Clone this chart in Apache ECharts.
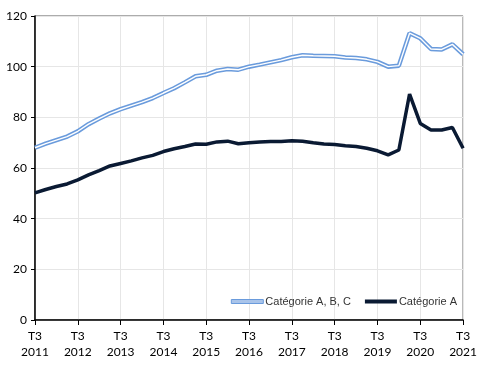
<!DOCTYPE html>
<html>
<head>
<meta charset="utf-8">
<script src="https://cdn.jsdelivr.net/npm/echarts@6/dist/echarts.min.js"></script>
<style>html,body{margin:0;padding:0;background:#fff}#c{width:480px;height:367px}</style>
</head>
<body>
<div id="c"></div>
<script>
const quarters = [];
(function(){ const q=['T3','T4','T1','T2']; let y=2011; for(let i=0;i<41;i++){ const k=q[i%4]; if(k==='T1'&&i>0) y++; quarters.push(k+' '+y);} })();

const catABC = [68.0,69.6,71.0,72.4,74.5,77.3,79.5,81.6,83.2,84.6,86.0,87.6,89.6,91.5,93.8,96.2,96.8,98.4,99.1,98.8,100.0,100.8,101.7,102.6,103.7,104.5,104.3,104.2,104.1,103.6,103.4,102.9,101.9,100.0,100.4,113.2,111.2,107.0,106.8,108.8,104.9];
const catA = [50.2,51.5,52.7,53.7,55.3,57.3,59.0,60.8,61.8,62.8,64.0,65.0,66.5,67.6,68.5,69.5,69.4,70.3,70.6,69.6,70.0,70.3,70.5,70.5,70.8,70.6,70.0,69.5,69.3,68.8,68.5,67.8,66.8,65.2,67.1,89.2,77.6,75.0,75.0,76.0,67.8];
const yTicks = [0,20,40,60,80,100,120];
const names = ['Catégorie A, B, C','Catégorie A'];

const chart = echarts.init(document.getElementById('c'), null, {renderer:'canvas'});
const tickFont = {fontFamily:'Lato', fontSize:12, color:'#000'};
chart.setOption({
  animation:false,
  grid:{left:35,right:14,top:16,bottom:47,show:true,borderColor:'#595959',borderWidth:1,backgroundColor:'transparent'},
  legend:{
    data:[{name:names[0],itemStyle:{color:'#a9c4ea',borderColor:'#6a9bdc',borderWidth:1}},{name:names[1],itemStyle:{color:'#0a1a33'}}],
    icon:'rect', itemWidth:32, itemHeight:4, itemGap:14,
    right:18, top:291,
    textStyle:{fontFamily:'Liberation Sans',fontSize:11,color:'#333',padding:[0,0,0,-3]}
  },
  xAxis:{
    type:'category', data:quarters, boundaryGap:false,
    axisLine:{lineStyle:{color:'#000',width:1.5}},
    axisTick:{interval:3,length:5,lineStyle:{color:'#000'}},
    axisLabel:Object.assign({interval:3,margin:8,lineHeight:16,formatter:v=>v.replace(' ','\n')},tickFont),
    splitLine:{show:true,interval:3,lineStyle:{color:'#e6e6e6',width:1}}
  },
  yAxis:{
    type:'value', min:yTicks[0], max:yTicks[yTicks.length-1], interval:20,
    axisLine:{show:true,lineStyle:{color:'#000',width:1.5}},
    axisTick:{show:true,length:4,lineStyle:{color:'#000'}},
    axisLabel:Object.assign({margin:8},tickFont),
    splitLine:{show:true,lineStyle:{color:'#e6e6e6',width:1}}
  },
  series:[
    {name:names[0],type:'line',data:catABC,showSymbol:false,lineStyle:{color:'#6a9bdc',width:4.5},itemStyle:{color:'#6a9bdc'},z:2},
    {name:'inner',type:'line',data:catABC,showSymbol:false,lineStyle:{color:'#ffffff',width:1.4},itemStyle:{color:'#fff'},z:3,silent:true},
    {name:names[1],type:'line',data:catA,showSymbol:false,lineStyle:{color:'#0a1a33',width:3.5},itemStyle:{color:'#0a1a33'},z:4}
  ]
});
</script>
</body>
</html>
